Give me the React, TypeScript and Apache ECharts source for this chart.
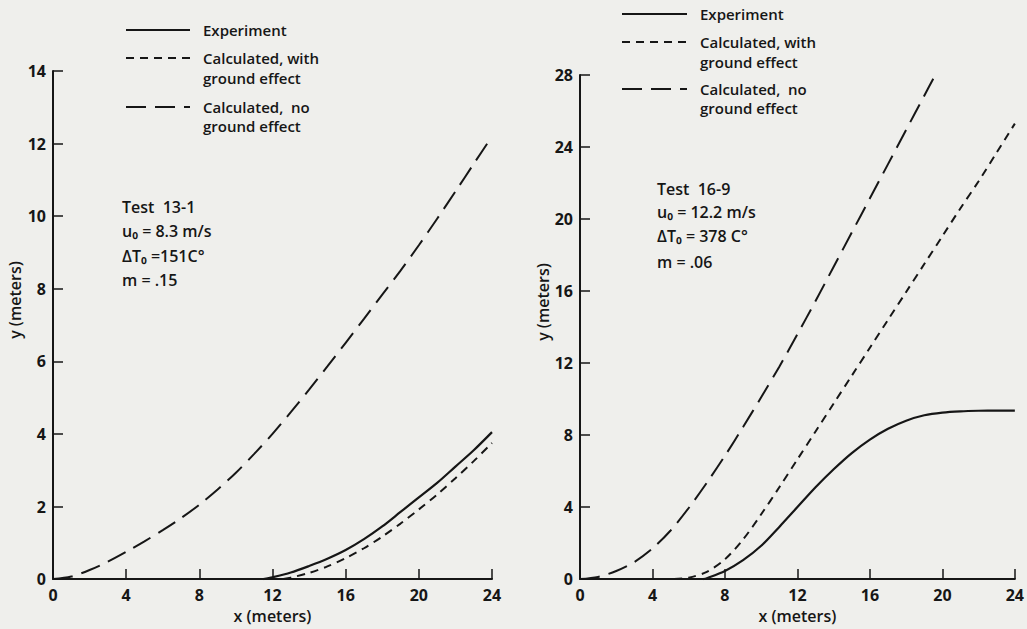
import React, { useEffect, useRef } from "react";
import * as echarts from "echarts";

// ---- Left panel (Test 13-1) ----
const leftExpX = [11.5, 12, 13, 14, 15, 16, 17, 18, 19, 20, 21, 22, 23, 24];
const leftExpY = [0, 0.05, 0.18, 0.36, 0.56, 0.8, 1.1, 1.45, 1.85, 2.25, 2.65, 3.1, 3.55, 4.05];
const leftGroundX = [12.6, 13, 14, 15, 16, 17, 18, 19, 20, 21, 22, 23, 24];
const leftGroundY = [0, 0.04, 0.17, 0.35, 0.58, 0.85, 1.17, 1.53, 1.92, 2.33, 2.78, 3.25, 3.75];
const leftNoGroundX = [0, 1, 2, 3, 4, 5, 6, 7, 8, 9, 10, 11, 12, 13, 14, 15, 16, 17, 18, 19, 20, 21, 22, 23, 24];
const leftNoGroundY = [0, 0.07, 0.25, 0.48, 0.75, 1.04, 1.35, 1.68, 2.05, 2.47, 2.93, 3.45, 4.0, 4.6, 5.22, 5.86, 6.51, 7.17, 7.84, 8.5, 9.2, 9.93, 10.68, 11.44, 12.2];

// ---- Right panel (Test 16-9) ----
const rightExpX = [6.8, 7, 8, 9, 10, 11, 12, 13, 14, 15, 16, 17, 18, 19, 20, 21, 22, 23, 24];
const rightExpY = [0, 0.05, 0.45, 1.05, 1.85, 2.9, 4.0, 5.1, 6.1, 7.0, 7.75, 8.35, 8.8, 9.1, 9.25, 9.32, 9.35, 9.36, 9.36];
const rightGroundX = [5.2, 6, 7, 8, 9, 10, 11, 12, 13, 14, 15, 16, 17, 18, 19, 20, 21, 22, 23, 24];
const rightGroundY = [0, 0.08, 0.4, 1.1, 2.2, 3.6, 5.1, 6.65, 8.2, 9.75, 11.3, 12.85, 14.4, 15.95, 17.5, 19.05, 20.6, 22.1, 23.7, 25.3];
const rightNoGroundX = [0, 1, 2, 3, 4, 5, 6, 7, 8, 9, 10, 11, 12, 13, 14, 15, 16, 17, 18, 19, 19.5];
const rightNoGroundY = [0, 0.12, 0.45, 0.95, 1.7, 2.7, 3.95, 5.35, 6.85, 8.45, 10.1, 11.8, 13.6, 15.45, 17.35, 19.25, 21.15, 23.05, 24.95, 26.85, 27.8];

// ---- Axes ----
const xMax = 24;
const xStep = 4;
const leftYMax = 14;
const leftYStep = 2;
const rightYMax = 28;
const rightYStep = 4;

// ---- Texts ----
const seriesNames = ["Experiment", "Calculated, with ground effect", "Calculated, no ground effect"];
const legendTexts = [["Experiment"], ["Calculated, with", "ground effect"], ["Calculated,  no", "ground effect"]];
const leftNotes = ["Test  13-1", "u₀ = 8.3 m/s", "ΔT₀ =151C°", "m = .15"];
const rightNotes = ["Test  16-9", "u₀ = 12.2 m/s", "ΔT₀ = 378 C°", "m = .06"];

const INK = "#161616";
const FONT = "'Open Sans', 'DejaVu Sans', sans-serif";

const pairs = (xs: number[], ys: number[]) => xs.map((x, i) => [x, ys[i]]);

export default function App() {
  const ref = useRef<HTMLDivElement>(null);
  useEffect(() => {
    if (!ref.current) return;
    const chart = echarts.init(ref.current, undefined, { renderer: "svg" });

    const axisCommon = {
      axisLine: { show: true, lineStyle: { color: INK, width: 2 } },
      axisTick: { show: true, inside: true, length: 10, lineStyle: { color: INK, width: 1.5 } },
      splitLine: { show: false },
      axisLabel: { color: INK, fontSize: 16, fontWeight: 700, fontFamily: FONT },
      nameTextStyle: { color: INK, fontSize: 16, fontWeight: 600, fontFamily: FONT },
    };

    const xAxis = (gridIndex: number) => ({
      ...axisCommon,
      type: "value",
      gridIndex,
      min: 0,
      max: xMax,
      interval: xStep,
      name: "x (meters)",
      nameLocation: "middle",
      nameGap: 24,
      axisLabel: { ...axisCommon.axisLabel, margin: 8 },
    });
    const yAxis = (gridIndex: number, max: number, step: number, gap: number) => ({
      ...axisCommon,
      type: "value",
      gridIndex,
      min: 0,
      max,
      interval: step,
      name: "y (meters)",
      nameLocation: "middle",
      nameGap: gap,
      nameRotate: 90,
      nameTextStyle: { ...axisCommon.nameTextStyle, padding: [0, 0, 0, 50] },
      axisLabel: { ...axisCommon.axisLabel, margin: 7 },
    });

    const lineSeries = (name: string, xi: number, data: number[][], type: any, width = 2) => ({
      type: "line",
      name,
      xAxisIndex: xi,
      yAxisIndex: xi,
      data,
      smooth: 0.3,
      symbol: "none",
      lineStyle: { color: INK, width, type },
    });

    const LONG = [20, 9];
    const SHORT = [8, 6];

    const legendBlock = (x0: number, x1: number, tx: number, ys: number[][]) => {
      const els: any[] = [];
      const dashes: any[] = [null, SHORT, LONG];
      ys.forEach((row, i) => {
        els.push({
          type: "line",
          shape: { x1: x0, y1: row[0], x2: x1, y2: row[0] },
          style: { stroke: INK, lineWidth: 2, lineDash: dashes[i] || undefined },
        });
        legendTexts[i].forEach((t, j) => {
          els.push({
            type: "text",
            x: tx,
            y: row[j],
            style: { text: t, fill: INK, font: `600 15px ${FONT}`, verticalAlign: "middle" },
          });
        });
      });
      return els;
    };

    const notes = (x: number, ys: number[], lines: string[]) =>
      lines.map((t, i) => ({
        type: "text",
        x,
        y: ys[i],
        style: { text: t, fill: INK, font: `600 16px ${FONT}`, verticalAlign: "middle" },
      }));

    chart.setOption({
      animation: false,
      backgroundColor: "#efefec",
      grid: [
        { left: 53, top: 71, width: 439, height: 511 },
        { left: 580, top: 75, width: 437, height: 511 },
      ],
      xAxis: [xAxis(0), xAxis(1)],
      yAxis: [yAxis(0, leftYMax, leftYStep, 30), yAxis(1, rightYMax, rightYStep, 28)],
      series: [
        lineSeries(seriesNames[0], 0, pairs(leftExpX, leftExpY), "solid", 2.2),
        lineSeries(seriesNames[1], 0, pairs(leftGroundX, leftGroundY), SHORT),
        lineSeries(seriesNames[2], 0, pairs(leftNoGroundX, leftNoGroundY), LONG),
        lineSeries(seriesNames[0], 1, pairs(rightExpX, rightExpY), "solid", 2.2),
        lineSeries(seriesNames[1], 1, pairs(rightGroundX, rightGroundY), SHORT),
        lineSeries(seriesNames[2], 1, pairs(rightNoGroundX, rightNoGroundY), LONG),
      ],
      graphic: [
        ...legendBlock(126, 190, 203, [[30], [58, 78], [107, 126]]),
        ...legendBlock(622, 687, 700, [[14], [42, 62], [89, 108]]),
        ...notes(122, [207, 231, 256, 280], leftNotes),
        ...notes(657, [189, 212, 236, 262], rightNotes),
      ],
    });
    return () => chart.dispose();
  }, []);

  return <div ref={ref} style={{ position: "fixed", left: 0, top: 0, width: 1027, height: 629 }} />;
}
